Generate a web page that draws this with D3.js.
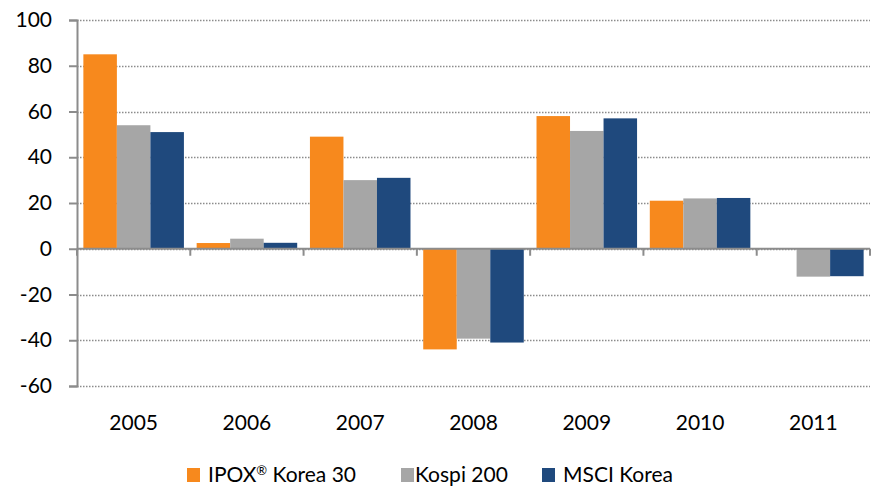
<!DOCTYPE html>
<html><head><meta charset="utf-8">
<script src="https://cdn.jsdelivr.net/npm/d3@7"></script>
<style>body{margin:0;background:#fff}svg{display:block}text{font-family:Lato,"Open Sans",sans-serif}</style>
</head><body><svg id="c" width="877" height="487"></svg>
<script>
const categories = ["2005","2006","2007","2008","2009","2010","2011"];
const seriesNames = ["IPOX","Kospi 200","MSCI Korea"];
const ipox  = [85, 2.5, 49, -44, 58, 21, 0];
const kospi = [54, 4.4, 30, -39.3, 51.5, 22, -12.2];
const msci  = [51, 2.6, 31, -41, 57, 22.2, -12];
const yTicks = [-60,-40,-20,0,20,40,60,80,100];
const colors = ["#F7891D","#A6A6A6","#1F497D"];
const series = [ipox, kospi, msci];

const svg = d3.select("#c");
const L = 77, R = 870, T = 20, B = 386;
const FS = 21;
const x = d3.scaleBand().domain(categories).range([L, R]).paddingInner(0).paddingOuter(0);
const y = d3.scaleLinear().domain([-60,100]).range([B, T]);
const inner = d3.scaleBand().domain(d3.range(3)).range([0, x.bandwidth()]).paddingInner(0).paddingOuter(0.19);

// grid
svg.append("g").selectAll("line").data(yTicks).join("line")
  .attr("x1", L).attr("x2", R).attr("y1", d=>Math.round(y(d))+0.5).attr("y2", d=>Math.round(y(d))+0.5)
  .attr("stroke","#8c8c8c").attr("stroke-width",1.3).attr("stroke-dasharray","1.5,1.5");

// bars
series.forEach((vals, si) => {
  svg.append("g").selectAll("rect").data(vals).join("rect")
    .attr("x", (d,i)=>x(categories[i]) + inner(si))
    .attr("width", inner.bandwidth())
    .attr("y", d=>y(Math.max(0,d)))
    .attr("height", d=>Math.abs(y(d)-y(0)))
    .attr("fill", colors[si]);
});

// y axis
const yAxis = d3.axisLeft(y).tickValues(yTicks).tickSize(8).tickPadding(17).tickFormat(d=>String(d));
const gy = svg.append("g").attr("transform",`translate(${L},0)`).call(yAxis);
gy.select(".domain").attr("stroke","#8c8c8c").attr("stroke-width",2);
gy.selectAll(".tick line").attr("stroke","#8c8c8c").attr("stroke-width",2);
gy.selectAll("text").attr("font-size",FS).attr("fill","#000").style("font-family","Lato,'Open Sans',sans-serif");

// x axis at zero
const z = y(0);
svg.append("line").attr("x1",L).attr("x2",R).attr("y1",z).attr("y2",z).attr("stroke","#8c8c8c").attr("stroke-width",2);
const bounds = categories.map(c=>x(c)).concat([R]);
svg.append("g").selectAll("line").data(bounds).join("line")
  .attr("x1",d=>d).attr("x2",d=>d).attr("y1",z).attr("y2",z+7)
  .attr("stroke","#8c8c8c").attr("stroke-width",2);
svg.append("g").selectAll("text").data(categories).join("text")
  .attr("x",d=>x(d)+x.bandwidth()/2).attr("y",430).attr("text-anchor","middle")
  .attr("font-size",FS).attr("fill","#000").text(d=>d);

// legend
const legX = [187, 401, 542];
const legOff = [21, 14, 21];
const lg = svg.append("g");
seriesNames.forEach((n,i)=>{
  lg.append("rect").attr("x",legX[i]).attr("y",468).attr("width",13).attr("height",14).attr("fill",colors[i]);
  const t = lg.append("text").attr("x",legX[i]+legOff[i]).attr("y",482).attr("font-size",FS).attr("fill","#000").text(n);
  if (i===0) {
    t.append("tspan").attr("font-size",13).attr("dy",-7).text("\u00AE");
    t.append("tspan").attr("dy",7).text(" Korea 30");
  }
});
</script></body></html>
